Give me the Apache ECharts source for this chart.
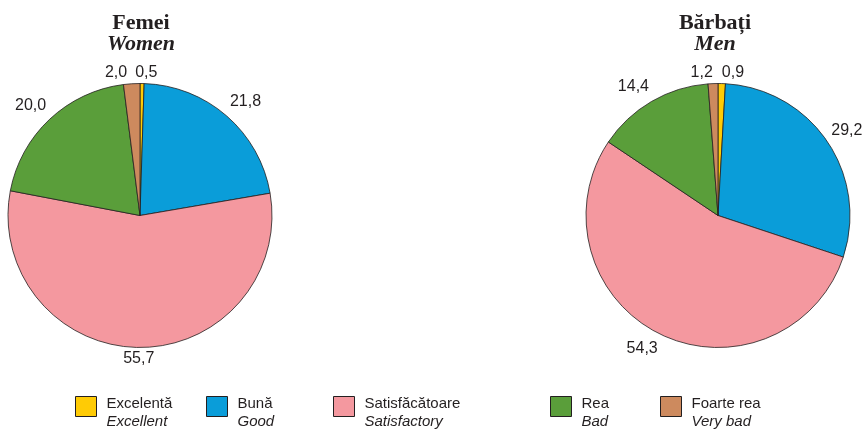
<!DOCTYPE html>
<html><head><meta charset="utf-8">
<script src="https://cdn.jsdelivr.net/npm/echarts@6/dist/echarts.min.js"></script>
<style>html,body{margin:0;padding:0;background:#fff}#c{width:866px;height:430px}</style>
</head><body><div id="c"></div>
<script>
const categoriesRo = ['Excelentă', 'Bună', 'Satisfăcătoare', 'Rea', 'Foarte rea'];
const categoriesEn = ['Excellent', 'Good', 'Satisfactory', 'Bad', 'Very bad'];
const womenValues = [0.5, 21.8, 55.7, 20.0, 2.0];
const menValues = [0.9, 29.2, 54.3, 14.4, 1.2];
const titlesRo = ['Femei', 'Bărbați'];
const titlesEn = ['Women', 'Men'];

const seriesValues = [womenValues, menValues];
const colors = ['#FFCB05', '#0A9DD9', '#F4989F', '#5A9E3A', '#CD8A5E'];
const centers = [[140, 215.5], [718, 215.5]];
const radius = 132;
const ink = '#231F20';
const labelFont = '16px "Liberation Sans", Arial';

const chart = echarts.init(document.getElementById('c'), null, {renderer: 'canvas'});
const fmt = v => v.toFixed(1).replace('.', ',');

const measureCtx = document.createElement('canvas').getContext('2d');
measureCtx.font = labelFont;

// label placement derived from each slice's mid angle (same geometry the pie uses)
function computeLabels(si) {
  const vals = seriesValues[si];
  const total = vals.reduce((a, b) => a + b, 0);
  const c = centers[si];
  let cum = 0;
  const items = vals.map(v => {
    const theta = 2 * Math.PI * (cum + v / 2) / total;
    cum += v;
    const dx = Math.sin(theta), dy = -Math.cos(theta);
    const ax = c[0] + (radius + 5) * dx;
    const ay = c[1] + (radius + 5) * dy + 15 * dy * (1 - 0.6 * Math.pow(dy, 8));
    const w = measureCtx.measureText(fmt(v)).width;
    const x0 = Math.abs(dx) < 0.02 ? ax - w / 2 : (dx > 0 ? ax : ax - w);
    return {x0: x0, y: ay, w: w};
  });
  // separate labels that collide horizontally
  for (let i = 0; i < items.length; i++) {
    for (let j = i + 1; j < items.length; j++) {
      const a0 = items[i], b0 = items[j];
      if (Math.abs(a0.y - b0.y) >= 16) continue;
      const a = a0.x0 <= b0.x0 ? a0 : b0, b = a === a0 ? b0 : a0;
      const overlap = a.x0 + a.w + 8 - b.x0;
      if (overlap > 0) { a.x0 -= overlap / 2; b.x0 += overlap / 2; }
    }
  }
  return items;
}
const labelPlaces = [computeLabels(0), computeLabels(1)];

function labelPlace(p) {
  const it = labelPlaces[p.seriesIndex][p.dataIndex];
  return {x: it.x0, y: it.y, align: 'left', verticalAlign: 'middle'};
}

function pieSeries(values, center) {
  return {
    type: 'pie', center: center, radius: radius, startAngle: 90, clockwise: true,
    avoidLabelOverlap: false, animation: false,
    itemStyle: {borderColor: ink, borderWidth: 0.8},
    emphasis: {disabled: true},
    label: {show: true, position: 'outside', formatter: p => fmt(p.value), width: 38,
      fontFamily: 'Liberation Sans, Arial', fontSize: 16, color: ink},
    labelLine: {show: false, length: 0, length2: 0},
    labelLayout: labelPlace,
    data: values.map((v, i) => ({name: categoriesRo[i], value: v, itemStyle: {color: colors[i]}}))
  };
}

const legendLefts = [75, 206, 333, 550, 660];
const legends = categoriesRo.map((name, i) => ({
  data: [name], left: legendLefts[i], top: 396, padding: 0,
  itemWidth: 21, itemHeight: 20, itemGap: 0,
  selectedMode: false, icon: 'rect',
  itemStyle: {borderColor: ink, borderWidth: 1},
  formatter: n => '{a|' + n + '}\n{b|' + categoriesEn[i] + '}',
  textStyle: {padding: [12, 0, 0, 5], rich: {
    a: {fontFamily: 'Liberation Sans, Arial', fontSize: 15, color: ink, lineHeight: 18},
    b: {fontFamily: 'Liberation Sans, Arial', fontSize: 15, fontStyle: 'italic', color: ink, lineHeight: 18}
  }}
}));

const titleStyle = {fontFamily: 'Liberation Serif, Times New Roman', fontSize: 22, fontWeight: 'bold', color: ink};
const subStyle = Object.assign({}, titleStyle, {fontStyle: 'italic'});

chart.setOption({
  color: colors,
  title: [
    {text: titlesRo[0], subtext: titlesEn[0], left: 141, top: 12, padding: 0, textAlign: 'center', itemGap: -1,
      textStyle: titleStyle, subtextStyle: subStyle},
    {text: titlesRo[1], subtext: titlesEn[1], left: 715, top: 12, padding: 0, textAlign: 'center', itemGap: -1,
      textStyle: titleStyle, subtextStyle: subStyle}
  ],
  legend: legends,
  series: [pieSeries(womenValues, centers[0]), pieSeries(menValues, centers[1])]
});
</script></body></html>
